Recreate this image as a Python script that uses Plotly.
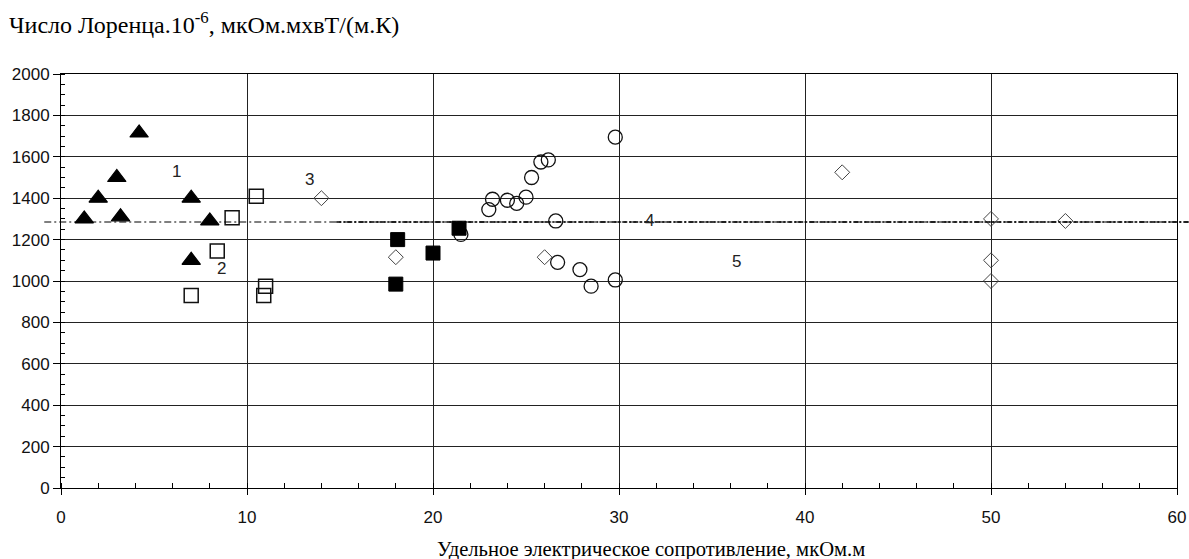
import plotly.graph_objects as go

# ---- data ----
tri_x = [1.25, 2.0, 3.0, 3.2, 4.2, 7.0, 8.0, 7.0]
tri_y = [1300, 1400, 1500, 1310, 1715, 1400, 1290, 1100]

sq_open_x = [7.0, 8.4, 9.2, 10.5, 10.9, 11.0]
sq_open_y = [930, 1145, 1305, 1410, 930, 975]

diamond_x = [14.0, 18.0, 26.0, 42.0, 50.0, 50.0, 50.0, 54.0]
diamond_y = [1400, 1115, 1115, 1525, 1300, 1100, 1000, 1290]

circle_x = [21.5, 23.0, 23.2, 24.0, 24.5, 25.0, 25.3, 25.8, 26.2, 26.6, 26.7, 27.9, 28.5, 29.8, 29.8]
circle_y = [1225, 1345, 1395, 1390, 1375, 1405, 1500, 1575, 1585, 1290, 1090, 1055, 975, 1005, 1695]

sq_fill_x = [18.0, 18.1, 20.0, 21.4]
sq_fill_y = [985, 1200, 1135, 1255]

ref_level = 1285          # line 4
ref_second_start = 14.8   # where the heavier dash-dot line begins

label_texts = ["1", "2", "3", "4", "5"]
label_x = [6.2, 8.65, 13.35, 31.65, 36.3]
label_y = [1530, 1060, 1490, 1290, 1093]

x_ticks = [0, 10, 20, 30, 40, 50, 60]
y_ticks = list(range(0, 2001, 200))

X_MIN, X_MAX = 0, 60
Y_MIN, Y_MAX = 0, 2000

title_text = "Число Лоренца.10<sup>-6</sup>, мкОм.мхвТ/(м.К)"
xtitle_text = "Удельное электрическое сопротивление, мкОм.м"

SANS = "Liberation Sans, Arial, sans-serif"
SERIF = "Liberation Serif, Times New Roman, serif"

fig = go.Figure()

fig.add_trace(go.Scatter(x=circle_x, y=circle_y, mode="markers",
                         marker=dict(symbol="circle-open", size=14, color="#111", line=dict(width=1.3)),
                         showlegend=False))
fig.add_trace(go.Scatter(x=diamond_x, y=diamond_y, mode="markers",
                         marker=dict(symbol="diamond-open", size=11.5, color="#444", line=dict(width=1)),
                         showlegend=False))
fig.add_trace(go.Scatter(x=sq_open_x, y=sq_open_y, mode="markers",
                         marker=dict(symbol="square-open", size=14, color="#111", line=dict(width=1.5)),
                         showlegend=False))
fig.add_trace(go.Scatter(x=tri_x, y=tri_y, mode="markers",
                         marker=dict(symbol="triangle-up", size=16, color="black", line=dict(width=1.2, color="black")),
                         showlegend=False))
fig.add_trace(go.Scatter(x=sq_fill_x, y=sq_fill_y, mode="markers",
                         marker=dict(symbol="square", size=14, color="black", line=dict(width=1, color="black")),
                         showlegend=False))


def px(xv):
    return (xv - X_MIN) / (X_MAX - X_MIN)


# line 4 (thin dash-dot across the whole chart, extends slightly past the axes)
fig.add_shape(type="line", xref="paper", yref="y", x0=-0.015, x1=1.011,
              y0=ref_level, y1=ref_level,
              line=dict(color="black", width=1.2, dash="7px,3px,2px,3px"))
fig.add_shape(type="line", xref="paper", yref="y", x0=px(ref_second_start), x1=1.011,
              y0=ref_level, y1=ref_level,
              line=dict(color="black", width=1.6, dash="5px,2px,2px,2px"))

for t, lx, ly in zip(label_texts, label_x, label_y):
    fig.add_annotation(x=lx, y=ly, text=t, showarrow=False, xref="x", yref="y",
                       font=dict(family=SANS, size=17, color="#222"))

fig.add_annotation(text=xtitle_text, xref="paper", yref="paper",
                   x=(651 - 61) / 1116, y=(488 - 549) / 414, xanchor="center", yanchor="middle",
                   showarrow=False, font=dict(family=SERIF, size=20.6, color="black"))

fig.update_layout(
    width=1189, height=559,
    margin=dict(l=61, r=12, t=74, b=71, autoexpand=False),
    paper_bgcolor="white", plot_bgcolor="white",
    title=dict(text=title_text, xref="container", yref="container",
               x=9 / 1189, xanchor="left", y=1 - 25 / 559, yanchor="middle",
               font=dict(family=SERIF, size=24, color="black")),
    xaxis=dict(range=[X_MIN, X_MAX], tickvals=x_ticks, showgrid=True, gridcolor="#222", gridwidth=1,
               showline=True, linecolor="black", linewidth=1, mirror=True, zeroline=False,
               automargin=False,
               ticks="outside", ticklen=6, tickcolor="black",
               minor=dict(dtick=2, ticks="inside", ticklen=5, tickcolor="black", showgrid=False),
               tickfont=dict(family=SANS, size=17, color="#111"), ticklabelstandoff=8),
    yaxis=dict(range=[Y_MIN, Y_MAX], tickvals=y_ticks, showgrid=True, gridcolor="#222", gridwidth=1,
               showline=True, linecolor="black", linewidth=1, mirror=True, zeroline=False,
               automargin=False,
               ticks="outside", ticklen=7, tickcolor="black",
               minor=dict(dtick=50, ticks="inside", ticklen=4, tickcolor="black", showgrid=False),
               tickfont=dict(family=SANS, size=17, color="#111")),
)

fig.write_html("out.html")
